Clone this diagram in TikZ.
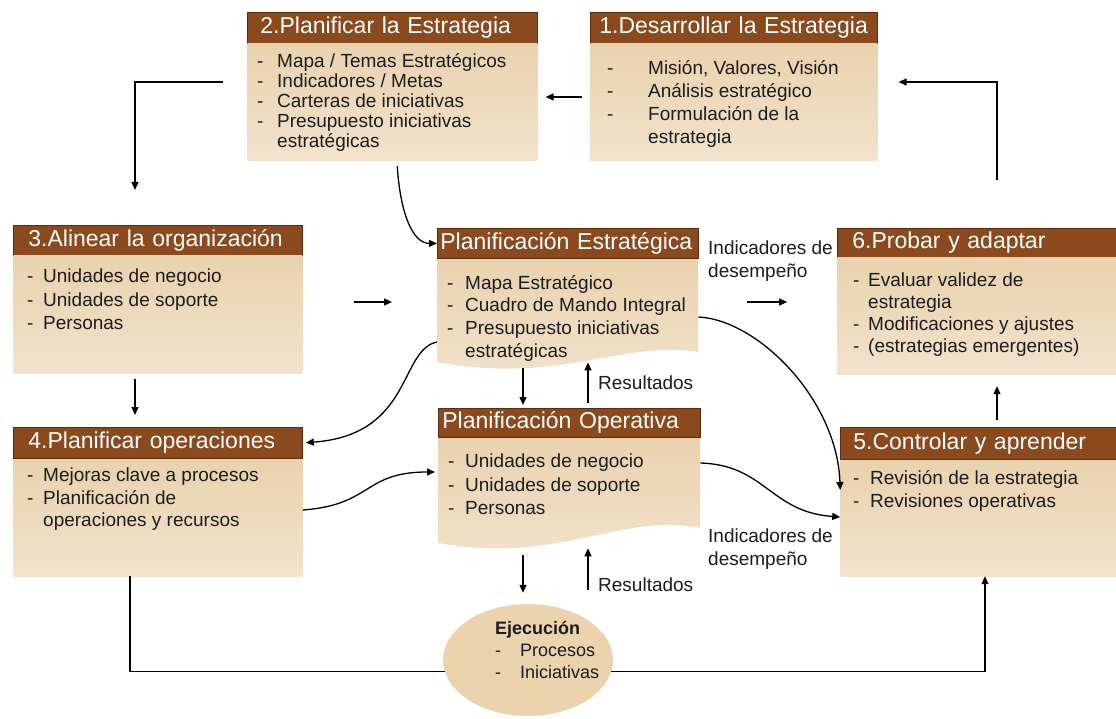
\documentclass[tikz,border=0pt]{standalone}
\usepackage{fontspec}
\setmainfont{Liberation Sans}
\usetikzlibrary{arrows.meta,positioning,shapes.geometric}

\definecolor{titlebrown}{HTML}{8B4A1E}
\definecolor{titleedge}{HTML}{5C2D0C}
\definecolor{bodytop}{HTML}{E9D2AE}
\definecolor{bodybot}{HTML}{F2E3CC}
\definecolor{ovalfill}{HTML}{EBD3AE}
\definecolor{textdark}{HTML}{1C1C1C}

\newcommand{\titlefont}{\fontsize{23}{25}\selectfont\hyphenpenalty=10000}
\newcommand{\bodyfont}{\fontsize{19}{22}\selectfont}
\newcommand{\itemdash}[1][16pt]{\strut\makebox[#1][l]{-}}
\newcommand{\itemcont}[1][16pt]{\strut\hspace*{#1}}

\begin{document}
\begin{tikzpicture}[
        x=1pt, y=-1pt,
        stagehead/.style={fill=titlebrown, draw=titleedge, line width=0.8pt, text=white,
            font=\titlefont, anchor=north west, minimum height=31pt, inner xsep=13pt,
            inner ysep=0pt, text height=17pt, text depth=5pt, align=left},
        stagebody/.style={top color=bodytop, bottom color=bodybot, inner sep=0pt},
        stagetext/.style={font=\bodyfont, text=textdark, anchor=north west, align=left, inner sep=0pt},
        arr/.style={-{Triangle[length=8pt,width=7pt]}, line width=1.3pt},
        conn/.style={line width=1.3pt}
    ]
    \useasboundingbox (0,0) rectangle (1116,719);

    % 1. desarrollar
    \node[stagehead, text width=269pt, inner xsep=9pt] (s1) at (590,12) {1.Desarrollar la Estrategia};
    \node[stagebody, minimum width=287pt, minimum height=117pt, below=0pt of s1] (s1b) {};
    \node[stagetext, font={\fontsize{19}{23}\selectfont}] (s1t) at (607,58)
        {\itemdash[41pt]Misión, Valores, Visión\\ \itemdash[41pt]Análisis estratégico\\
         \itemdash[41pt]Formulación de la\\ \itemcont[41pt]estrategia};

    % 2. planificar
    \node[stagehead, text width=264pt] (s2) at (247,12) {2.Planificar la Estrategia};
    \node[stagebody, minimum width=290pt, minimum height=117pt, below=0pt of s2] (s2b) {};
    \node[stagetext, font={\fontsize{19}{20}\selectfont}] (s2t) at (257,53)
        {\itemdash[20pt]Mapa / Temas Estratégicos\\ \itemdash[20pt]Indicadores / Metas\\
         \itemdash[20pt]Carteras de iniciativas\\ \itemdash[20pt]Presupuesto iniciativas\\
         \itemcont[20pt]estratégicas};

    % 3. alinear
    \node[stagehead, text width=259pt, inner xsep=15pt, minimum height=30pt] (s3) at (13,225) {3.Alinear la organización};
    \node[stagebody, minimum width=289pt, minimum height=117pt, below=0pt of s3] (s3b) {};
    \node[stagetext, font={\fontsize{19}{23.5}\selectfont}] (s3t) at (27,266)
        {\itemdash Unidades de negocio\\ \itemdash Unidades de soporte\\ \itemdash Personas};

    % 4. planificar operaciones
    \node[stagehead, text width=259pt, inner xsep=15pt] (s4) at (13,427) {4.Planificar operaciones};
    \node[stagebody, minimum width=289pt, minimum height=117pt, below=0pt of s4] (s4b) {};
    \node[stagetext, font={\fontsize{19}{22.5}\selectfont}] (s4t) at (27,466)
        {\itemdash Mejoras clave a procesos\\ \itemdash Planificación de\\ \itemcont operaciones y recursos};

    % planificacion estrategica
    \path[stagebody] (437,258) -- (698,258) -- (698,352)
        .. controls (620,340) and (560,385) .. (437,362) -- cycle;
    \node[stagehead, text width=255pt, inner xsep=3pt, minimum height=30pt] (pe) at (437,228) {Planificación Estratégica};
    \node[anchor=north west, minimum width=261pt, minimum height=104pt, inner sep=0pt] (peb) at (437,258) {};
    \node[stagetext, font={\fontsize{19}{22.7}\selectfont}] (pet) at (447,273)
        {\itemdash[18pt]Mapa Estratégico\\ \itemdash[18pt]Cuadro de Mando Integral\\
         \itemdash[18pt]Presupuesto iniciativas\\ \itemcont[18pt]estratégicas};

    % planificacion operativa
    \path[stagebody] (438,437) -- (700,437) -- (700,528)
        .. controls (620,512) and (560,565) .. (438,543) -- cycle;
    \node[stagehead, text width=254pt, inner xsep=4pt, minimum height=29pt] (po) at (438,408) {Planificación Operativa};
    \node[anchor=north west, minimum width=262pt, minimum height=106pt, inner sep=0pt] (pob) at (438,437) {};
    \node[stagetext, font={\fontsize{19}{23.5}\selectfont}] (pot) at (448,451)
        {\itemdash[17pt]Unidades de negocio\\ \itemdash[17pt]Unidades de soporte\\ \itemdash[17pt]Personas};

    % 6. probar
    \node[stagehead, text width=249pt, inner xsep=15pt, minimum height=29pt] (s6) at (837,228) {6.Probar y adaptar};
    \node[stagebody, minimum width=279pt, minimum height=116pt, below=0pt of s6] (s6b) {};
    \node[stagetext] (s6t) at (853,271)
        {\itemdash[15pt]Evaluar validez de\\ \itemcont[15pt]estrategia\\
         \itemdash[15pt]Modificaciones y ajustes\\ \itemdash[15pt](estrategias emergentes)};

    % 5. controlar
    \node[stagehead, text width=250pt, minimum height=32pt] (s5) at (840,427) {5.Controlar y aprender};
    \node[stagebody, minimum width=276pt, minimum height=116pt, below=0pt of s5] (s5b) {};
    \node[stagetext, font={\fontsize{19}{23}\selectfont}] (s5t) at (853,468)
        {\itemdash[17pt]Revisión de la estrategia\\ \itemdash[17pt]Revisiones operativas};

    % ejecucion
    \node[ellipse, fill=ovalfill, minimum width=170pt, minimum height=112pt, inner sep=0pt] (ejec) at (528,660) {};
    \node[stagetext, font={\fontsize{18}{22}\selectfont}] (ejt) at (495,619)
        {\strut\textbf{Ejecución}\\ \itemdash[25pt]Procesos\\ \itemdash[25pt]Iniciativas};

    % labels
    \node[stagetext, font={\fontsize{19}{23}\selectfont}] (ind1) at (708,238) {\strut Indicadores de\\desempeño};
    \node[stagetext, font={\fontsize{19}{23}\selectfont}] (ind2) at (708,526) {\strut Indicadores de\\desempeño};
    \node[font=\bodyfont, text=textdark, anchor=west, inner sep=0pt] (res1) at (598,383) {Resultados};
    \node[font=\bodyfont, text=textdark, anchor=west, inner sep=0pt] (res2) at (598,585) {Resultados};

    % connectors
    \draw[arr, shorten <=8pt, shorten >=8pt] (s1b.west |- 0,97) -- (s2b.east |- 0,97);
    \draw[arr, shorten <=48pt, shorten >=21pt] (s6.north -| 997,0) |- (s1b.east |- 0,82);
    \draw[arr, shorten <=24pt, shorten >=35pt] (s2b.west |- 0,82) -| (s3.north -| 135,0);
    \draw[arr, shorten <=5pt] (s2b.south -| 397,0) .. controls +(3,50) and +(-25,0) .. (pe.west);
    \draw[arr, shorten <=51pt, shorten >=45pt] (s3b.east |- 0,302) -- (pe.west |- 0,302);
    \draw[arr, shorten <=6pt, shorten >=12pt] (s3b.south -| 135,0) -- (s4.north -| 135,0);
    \draw[arr, shorten >=3pt] (peb.west |- 0,342) .. controls +(-38,8) and +(110,-8) .. (s4.east);
    \draw[arr, shorten >=3pt] (s4b.east |- 0,510) .. controls +(70,-5) and +(-75,0) .. (pob.west |- 0,472);
    \draw[arr, shorten <=6pt, shorten >=3pt] (peb.south -| 523,0) -- (po.north -| 523,0);
    \draw[arr, shorten <=5pt] (po.north -| 588,0) -- (peb.south -| 588,0);
    \draw[arr, shorten <=12pt, shorten >=11pt] (pob.south -| 523,0) -- (ejec.north -| 523,0);
    \draw[arr, shorten <=14pt, shorten >=5pt] (ejec.north -| 588,0) -- (pob.south -| 588,0);
    \draw[arr, shorten <=49pt, shorten >=50pt] (peb.east |- 0,302) -- (s6b.west |- 0,302);
    \draw[arr] (peb.east |- 0,317) .. controls +(60,3) and +(-3,-90) .. (s5b.west |- 0,490);
    \draw[arr] (pob.east |- 0,463) .. controls +(65,2) and +(-70,-5) .. (s5b.west |- 0,517);
    \draw[arr, shorten <=7pt, shorten >=12pt] (s5.north -| 997,0) -- (s6b.south -| 997,0);
    \draw[conn] (s4b.south -| 130,0) |- (ejec.188);
    \draw[arr] (ejec.352) -| (s5b.south -| 985,0);
\end{tikzpicture}
\end{document}
